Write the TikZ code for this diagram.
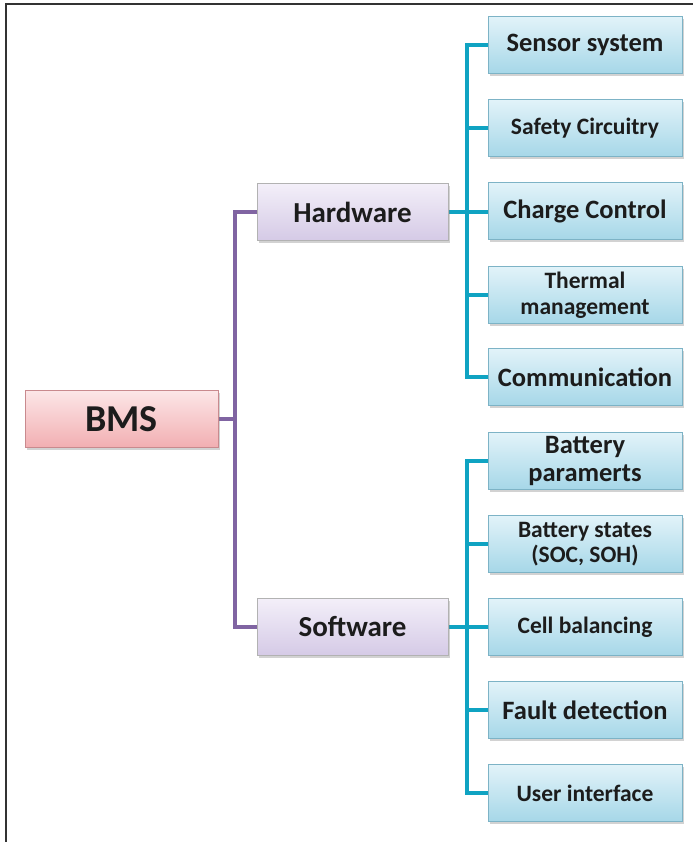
\documentclass[tikz,border=0pt]{standalone}
\usepackage{fontspec}
\setmainfont{Carlito}
\usetikzlibrary{shadows}
\definecolor{purpline}{HTML}{8064A2}
\definecolor{cyanline}{HTML}{0FA3C2}
\definecolor{leaftop}{HTML}{E2F3F9}
\definecolor{leafbot}{HTML}{A6D7E8}
\definecolor{leafdraw}{HTML}{7DB3C6}
\definecolor{midtop}{HTML}{F3EFF9}
\definecolor{midbot}{HTML}{D5CAE6}
\definecolor{roottop}{HTML}{FCE6E7}
\definecolor{rootbot}{HTML}{F2AFB2}
\definecolor{rootdraw}{HTML}{C98A8E}
\definecolor{txt}{HTML}{1C1C1C}
\tikzset{
  x=1pt,y=-1pt,
  basebox/.style={rectangle, minimum height=57pt, align=center, text=txt, inner sep=2pt,
    drop shadow={shadow xshift=1.5pt, shadow yshift=-2.5pt, opacity=0.35}},
  rootbox/.style={basebox, minimum width=193pt, draw=rootdraw, top color=roottop, bottom color=rootbot, font=\bfseries\fontsize{38}{40}\selectfont},
  midbox/.style={basebox, minimum width=191pt, draw=gray!60, top color=midtop, bottom color=midbot, font=\bfseries\fontsize{29}{30}\selectfont},
  leafbox/.style={basebox, minimum width=194pt, draw=leafdraw, top color=leaftop, bottom color=leafbot},
  big/.style={font=\bfseries\fontsize{26.5}{28}\selectfont},
  small/.style={font=\bfseries\fontsize{23.5}{25.5}\selectfont},
  pline/.style={draw=purpline, line width=4pt},
  cline/.style={draw=cyanline, line width=4pt},
}
\begin{document}
\begin{tikzpicture}
\useasboundingbox (0,0) rectangle (693,842);
\fill[white] (0,0) rectangle (693,842);
\draw[line width=2pt, black!80] (6,842) -- (6,4) -- (693,4);

\coordinate (pb) at (235,419);
\coordinate (hbus) at (467,0);

\draw[pline] (121,419) -- (pb);
\draw[pline] (300,212) -| (pb) |- (300,627);
\draw[cline] (400,212) -- (500,212);
\draw[cline] (400,627) -- (500,627);
\draw[cline] (500,45) -| (hbus |- 0,377) -- (500,377);
\draw[cline] (500,461) -| (hbus |- 0,793) -- (500,793);
\foreach \y in {128,295,544,710} \draw[cline] (hbus |- 0,\y) -- (500,\y);

\node[rootbox] (bms) at (121.5,419) {BMS};
\node[midbox] (hw) at (352.5,212) {Hardware};
\node[midbox] (sw) at (352.5,627) {Software};

\node[leafbox,big] (l1) at (585,45) {Sensor system};
\node[leafbox,small] (l2) at (585,128) {Safety Circuitry};
\node[leafbox,big] (l3) at (585,211) {Charge Control};
\node[leafbox,small] (l4) at (585,295) {Thermal\\management};
\node[leafbox,big] (l5) at (585,377) {Communication};

\node[leafbox,big] (s1) at (585,461) {Battery\\paramerts};
\node[leafbox,small] (s2) at (585,544) {Battery states\\(SOC, SOH)};
\node[leafbox,small] (s3) at (585,627) {Cell balancing};
\node[leafbox,big] (s4) at (585,710) {Fault detection};
\node[leafbox,small] (s5) at (585,793) {User interface};
\end{tikzpicture}
\end{document}
